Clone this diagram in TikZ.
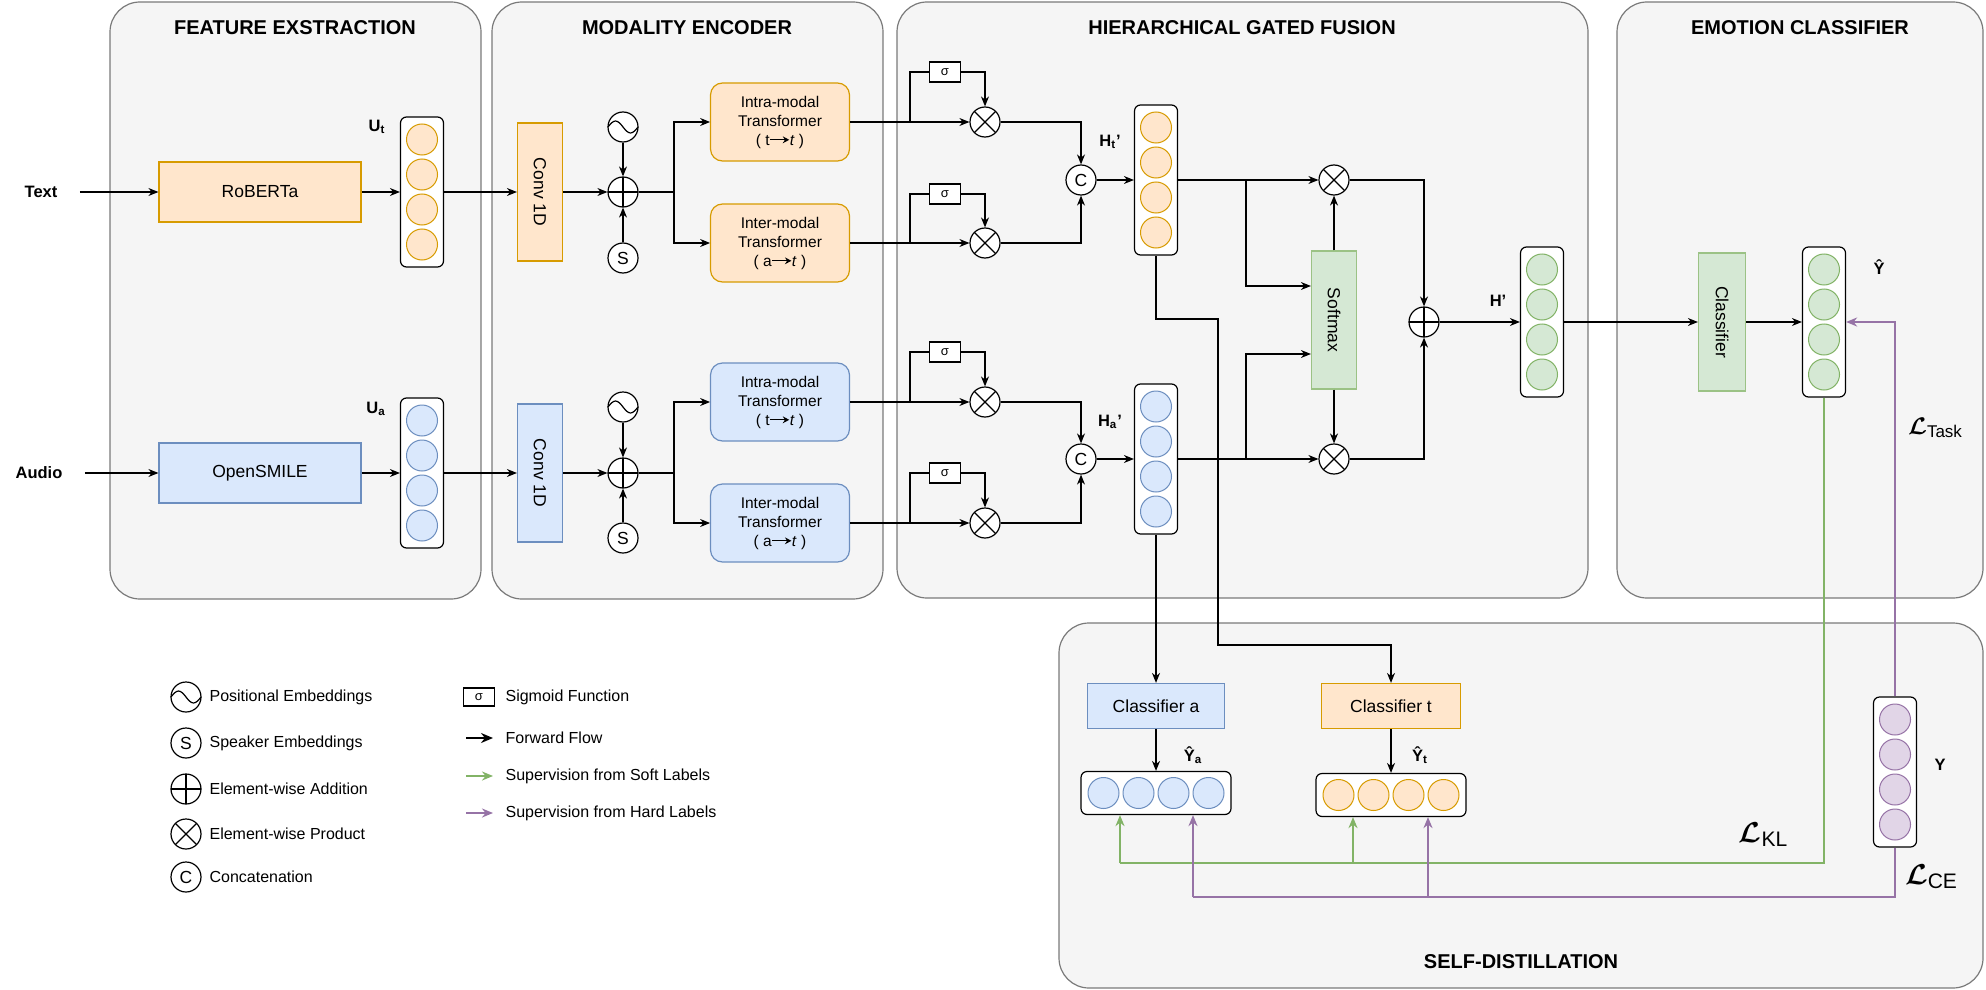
\documentclass[tikz,border=0pt]{standalone}
\usepackage{fontspec}
\setmainfont{Liberation Sans}
\usepackage{amsmath}
\usetikzlibrary{arrows.meta,calc}
\definecolor{ofill}{HTML}{FFE6CC}\definecolor{ostroke}{HTML}{D79B00}
\definecolor{bfill}{HTML}{DAE8FC}\definecolor{bstroke}{HTML}{6C8EBF}
\definecolor{gfill}{HTML}{D5E8D4}\definecolor{gstroke}{HTML}{82B366}
\definecolor{pfill}{HTML}{E1D5E7}\definecolor{pstroke}{HTML}{9673A6}
\definecolor{panelfill}{HTML}{F5F5F5}\definecolor{panelline}{HTML}{7A7A7A}
\newcommand{\szbox}{\fontsize{8.75}{10.5}\selectfont}
\newcommand{\sztr}{\fontsize{7.75}{9.5}\selectfont}
\newcommand{\szlbl}{\fontsize{8.25}{10}\selectfont\bfseries}
\newcommand{\szleg}{\fontsize{8}{10}\selectfont}
\newcommand{\tarr}{\tikz[baseline=-2.6pt]\draw[line width=0.6pt,-{Stealth[length=3.2pt,width=3.4pt]}] (0pt,0pt)--(9.5pt,0pt);}
\newcommand{\vvec}[5]{%
  \node[vbox] (#1) at (#2,#3) {};
  \foreach \k in {-26.25,-8.75,8.75,26.25} \node[vdot,fill=#4,draw=#5] at ([yshift=\k pt]#1.center) {};}
\newcommand{\hvec}[5]{%
  \node[hvbox] (#1) at (#2,#3) {};
  \foreach \k in {-26.25,-8.75,8.75,26.25} \node[vdot,fill=#4,draw=#5] at ([xshift=\k pt]#1.center) {};}
\newcommand{\wave}[1]{\draw ([xshift=-7.5pt]#1.center) sin ++(3.75pt,3pt) cos ++(3.75pt,-3pt) sin ++(3.75pt,-3pt) cos ++(3.75pt,3pt);}
\tikzset{
  panel/.style={draw=panelline,fill=panelfill,rounded corners=15pt,line width=0.6pt},
  ttl/.style={font=\fontsize{10}{12}\selectfont\bfseries,inner sep=0pt},
  lbl/.style={font=\szlbl,inner sep=0pt},
  arr/.style={-{Stealth[length=5pt,width=4pt]}},
  garr/.style={draw=gstroke,line width=1pt,-{Stealth[length=5.5pt,width=4.5pt]}},
  parr/.style={draw=pstroke,line width=1pt,-{Stealth[length=5.5pt,width=4.5pt]}},
  gline/.style={draw=gstroke,line width=1pt},
  pline/.style={draw=pstroke,line width=1pt},
  featbox/.style={draw,font=\szbox,inner sep=0pt,minimum width=101pt,minimum height=30pt},
  tallbox/.style={draw,inner sep=0pt,minimum width=22.5pt,minimum height=69pt},
  trbox/.style={draw,rounded corners=6pt,font=\sztr,align=center,inner sep=0pt,minimum width=69.5pt,minimum height=39pt},
  clsbox/.style={draw,font=\szbox,inner sep=0pt,minimum width=68.5pt,minimum height=22.5pt},
  sigbox/.style={draw,fill=white,font=\fontsize{6.5}{7}\selectfont,inner sep=0pt,minimum width=15.5pt,minimum height=10pt},
  vbox/.style={draw,fill=white,rounded corners=3pt,inner sep=0pt,minimum width=21.5pt,minimum height=75pt},
  hvbox/.style={draw,fill=white,rounded corners=3pt,inner sep=0pt,minimum width=75pt,minimum height=21.5pt},
  vdot/.style={circle,inner sep=0pt,minimum size=15.5pt,line width=0.5pt},
  opc/.style={circle,draw,fill=white,inner sep=0pt,minimum size=15pt,font=\fontsize{8.75}{10}\selectfont},
  plusc/.style={opc,path picture={\draw (path picture bounding box.north)--(path picture bounding box.south) (path picture bounding box.west)--(path picture bounding box.east);}},
  timesc/.style={opc,path picture={\draw (path picture bounding box.north west)--(path picture bounding box.south east) (path picture bounding box.north east)--(path picture bounding box.south west);}},
  ltxt/.style={font=\szleg,anchor=west,inner sep=0pt},
}
\begin{document}
\begin{tikzpicture}[x=0.5pt,y=-0.5pt,line width=0.6pt]
\useasboundingbox (0,0) rectangle (1986,990);
% panels
\draw[panel] (110,2) rectangle (481,599);
\draw[panel] (492,2) rectangle (883,599);
\draw[panel] (897,2) rectangle (1588,598);
\draw[panel] (1617,2) rectangle (1983,598);
\draw[panel] (1059,623) rectangle (1983,988);
\node[ttl] (t1) at (295,28) {FEATURE EXSTRACTION};
\node[ttl] (t2) at (687,28) {MODALITY ENCODER};
\node[ttl] (t3) at (1242,28) {HIERARCHICAL GATED FUSION};
\node[ttl] (t4) at (1800,28) {EMOTION CLASSIFIER};
\node[ttl] (t5) at (1521,962) {SELF-DISTILLATION};

% ---------- text branch ----------
\node[lbl] (txt) at (41,192) {Text};
\node[featbox,fill=ofill,draw=ostroke] (rob) at (260,192) {RoBERTa};
\vvec{ut}{422}{192}{ofill}{ostroke}
\node[lbl] (utl) at (377,127) {U\textsubscript{t}};
\node[tallbox,fill=ofill,draw=ostroke] (conv1) at (540,192) {};
\node[rotate=-90,font=\szbox] (conv1t) at (conv1) {Conv 1D};
\node[opc] (pe1) at (623,127) {}; \wave{pe1}
\node[plusc] (pl1) at (623,192) {};
\node[opc] (s1) at (623,258) {S};
\node[trbox,fill=ofill,draw=ostroke] (intra1) at (780,122) {Intra-modal\\Transformer\\( t\tarr\textit{t} )};
\node[trbox,fill=ofill,draw=ostroke] (inter1) at (780,243) {Inter-modal\\Transformer\\( a\tarr\textit{t} )};
\node[sigbox] (sg1) at (945,72) {σ};
\node[sigbox] (sg2) at (945,194) {σ};
\node[timesc] (gt1) at (985,122) {};
\node[timesc] (gt2) at (985,243) {};
\node[opc] (c1) at (1081,180) {C};
\vvec{ht}{1156}{180}{ofill}{ostroke}
\node[lbl] (htl) at (1110,142) {H\textsubscript{t}'};

\draw[arr] ([xshift=11pt]txt.east) -- (rob.west);
\draw[arr] (rob.east) -- (ut.west);
\draw[arr] (ut.east) -- (conv1.west);
\draw[arr] (conv1.east) -- (pl1.west);
\draw[arr] (pe1.south) -- (pl1.north);
\draw[arr] (s1.north) -- (pl1.south);
\coordinate (b1) at (674,192);
\draw (pl1.east) -- (b1);
\draw[arr] (b1) |- (intra1.west);
\draw[arr] (b1) |- (inter1.west);
\draw[arr] (intra1.east) -- (gt1.west);
\draw[arr] (inter1.east) -- (gt2.west);
\coordinate (g1) at (910,122); \coordinate (g2) at (910,243);
\draw (g1) |- (sg1.west);
\draw (g2) |- (sg2.west);
\draw[arr] (sg1.east) -| (gt1.north);
\draw[arr] (sg2.east) -| (gt2.north);
\draw[arr] (gt1.east) -| (c1.north);
\draw[arr] (gt2.east) -| (c1.south);
\draw[arr] (c1.east) -- (ht.west);

% ---------- audio branch ----------
\node[lbl] (aud) at (39,473) {Audio};
\node[featbox,fill=bfill,draw=bstroke] (osm) at (260,473) {OpenSMILE};
\vvec{ua}{422}{473}{bfill}{bstroke}
\node[lbl] (ual) at (376,409) {U\textsubscript{a}};
\node[tallbox,fill=bfill,draw=bstroke] (conv2) at (540,473) {};
\node[rotate=-90,font=\szbox] (conv2t) at (conv2) {Conv 1D};
\node[opc] (pe2) at (623,407) {}; \wave{pe2}
\node[plusc] (pl2) at (623,473) {};
\node[opc] (s2) at (623,538) {S};
\node[trbox,fill=bfill,draw=bstroke] (intra2) at (780,402) {Intra-modal\\Transformer\\( t\tarr\textit{t} )};
\node[trbox,fill=bfill,draw=bstroke] (inter2) at (780,523) {Inter-modal\\Transformer\\( a\tarr\textit{t} )};
\node[sigbox] (sg3) at (945,352) {σ};
\node[sigbox] (sg4) at (945,473) {σ};
\node[timesc] (ga1) at (985,402) {};
\node[timesc] (ga2) at (985,523) {};
\node[opc] (c2) at (1081,459) {C};
\vvec{ha}{1156}{459}{bfill}{bstroke}
\node[lbl] (hal) at (1110,422) {H\textsubscript{a}'};

\draw[arr] ([xshift=11pt]aud.east) -- (osm.west);
\draw[arr] (osm.east) -- (ua.west);
\draw[arr] (ua.east) -- (conv2.west);
\draw[arr] (conv2.east) -- (pl2.west);
\draw[arr] (pe2.south) -- (pl2.north);
\draw[arr] (s2.north) -- (pl2.south);
\coordinate (b2) at (674,473);
\draw (pl2.east) -- (b2);
\draw[arr] (b2) |- (intra2.west);
\draw[arr] (b2) |- (inter2.west);
\draw[arr] (intra2.east) -- (ga1.west);
\draw[arr] (inter2.east) -- (ga2.west);
\coordinate (g3) at (910,402); \coordinate (g4) at (910,523);
\draw (g3) |- (sg3.west);
\draw (g4) |- (sg4.west);
\draw[arr] (sg3.east) -| (ga1.north);
\draw[arr] (sg4.east) -| (ga2.north);
\draw[arr] (ga1.east) -| (c2.north);
\draw[arr] (ga2.east) -| (c2.south);
\draw[arr] (c2.east) -- (ha.west);

% ---------- fusion ----------
\node[tallbox,fill=gfill,draw=gstroke!80] (smx) at (1334,320) {};
\node[rotate=-90,font=\szbox] (smxt) at (smx) {Softmax};
\node[timesc] (ft) at (1334,180) {};
\node[timesc] (fa) at (1334,459) {};
\node[plusc] (hpl) at (1424,322) {};
\vvec{hp}{1542}{322}{gfill}{gstroke}
\node[lbl] (hpll) at (1498,301) {H'};
\draw[arr] (ht.east) -- (ft.west);
\draw[arr] (ha.east) -- (fa.west);
\coordinate (f1) at (1246,180); \coordinate (f2) at (1246,459);
\draw[arr] (f1) |- ([yshift=17pt]smx.west);
\draw[arr] (f2) |- ([yshift=-17pt]smx.west);
\draw[arr] (smx.north) -- (ft.south);
\draw[arr] (smx.south) -- (fa.north);
\draw[arr] (ft.east) -| (hpl.north);
\draw[arr] (fa.east) -| (hpl.south);
\draw[arr] (hpl.east) -- (hp.west);

% ---------- emotion classifier ----------
\node[tallbox,fill=gfill,draw=gstroke!80,minimum width=23.5pt] (cls) at (1722,322) {};
\node[rotate=-90,font=\szbox] (clst0) at (cls) {Classifier};
\vvec{yh}{1824}{322}{gfill}{gstroke}
\node[lbl] (yhl) at (1879,267) {\^{Y}};
\draw[arr] (hp.east) -- (cls.west);
\draw[arr] (cls.east) -- (yh.west);

% ---------- self-distillation ----------
\node[clsbox,fill=bfill,draw=bstroke] (clsa) at (1156,706) {Classifier a};
\node[clsbox,fill=ofill,draw=ostroke,minimum width=69.5pt] (clst) at (1391,706) {Classifier t};
\hvec{ya}{1156}{793}{bfill}{bstroke}
\hvec{yt}{1391}{795}{ofill}{ostroke}
\node[lbl] (yal) at (1193,755) {\^{Y}\textsubscript{a}};
\node[lbl] (ytl) at (1420,755) {\^{Y}\textsubscript{t}};
\vvec{yy}{1895}{772}{pfill}{pstroke}
\node[lbl] (yyl) at (1940,765) {Y};
\draw[arr] (ha.south) -- (clsa.north);
\coordinate (k1) at (1218,319); \coordinate (k2) at (1218,645);
\draw[arr] (ht.south) |- (k1) -- (k2) -| (clst.north);
\draw[arr] (clsa.south) -- (ya.north);
\draw[arr] (clst.south) -- (yt.north);
% green soft-label supervision
\coordinate (gL) at (1120,863); \coordinate (gM) at (1353,863);
\draw[gline] (yh.south) |- (gL);
\draw[garr] (gL) -- (gL |- ya.south);
\draw[garr] (gM) -- (gM |- yt.south);
% purple hard-label supervision
\coordinate (pL) at (1193,897); \coordinate (pM) at (1428,897);
\draw[pline] (yy.south) |- (pL);
\draw[parr] (pL) -- (pL |- ya.south);
\draw[parr] (pM) -- (pM |- yt.south);
\draw[parr] (yy.north) |- (yh.east);
\node[inner sep=0pt] (ltask) at (1935,428) {{\fontsize{12}{12}\selectfont$\boldsymbol{\mathcal{L}}$}\raisebox{-1.5pt}{\fontsize{8.5}{9}\selectfont Task}};
\node[inner sep=0pt] (lkl) at (1763,835) {{\fontsize{15}{15}\selectfont$\boldsymbol{\mathcal{L}}$}\raisebox{-2pt}{\fontsize{10.5}{11}\selectfont KL}};
\node[inner sep=0pt] (lce) at (1931,877) {{\fontsize{15}{15}\selectfont$\boldsymbol{\mathcal{L}}$}\raisebox{-2pt}{\fontsize{10.5}{11}\selectfont CE}};

% ---------- legend ----------
\node[opc] (lg1) at (186,697) {}; \wave{lg1}
\node[ltxt] (lg1t) at (209,697) {Positional Embeddings};
\node[opc] (lg2) at (186,743) {S};
\node[ltxt] (lg2t) at (209,743) {Speaker Embeddings};
\node[plusc] (lg3) at (186,789) {};
\node[ltxt] (lg3t) at (209,789) {Element-wise Addition};
\node[timesc] (lg4) at (186,834) {};
\node[ltxt] (lg4t) at (209,834) {Element-wise Product};
\node[opc] (lg5) at (186,877) {C};
\node[ltxt] (lg5t) at (209,877) {Concatenation};
\node[sigbox,minimum height=9pt] (lg6) at (479,697) {σ};
\node[ltxt] (lg6t) at (505,697) {Sigmoid Function};
\coordinate (la1) at (466,738); \coordinate (la2) at (466,776); \coordinate (la3) at (466,813);
\node[ltxt] (lg7t) at (505,738) {Forward Flow};
\node[ltxt] (lg8t) at (505,776) {Supervision from Soft Labels};
\node[ltxt] (lg9t) at (505,813) {Supervision from Hard Labels};
\draw[-{Stealth[length=6pt,width=5pt]},line width=0.9pt] (la1) -- ([xshift=-6pt]lg7t.west);
\draw[garr] (la2) -- ([xshift=-6pt]lg8t.west);
\draw[parr] (la3) -- ([xshift=-6pt]lg9t.west);
\end{tikzpicture}
\end{document}
